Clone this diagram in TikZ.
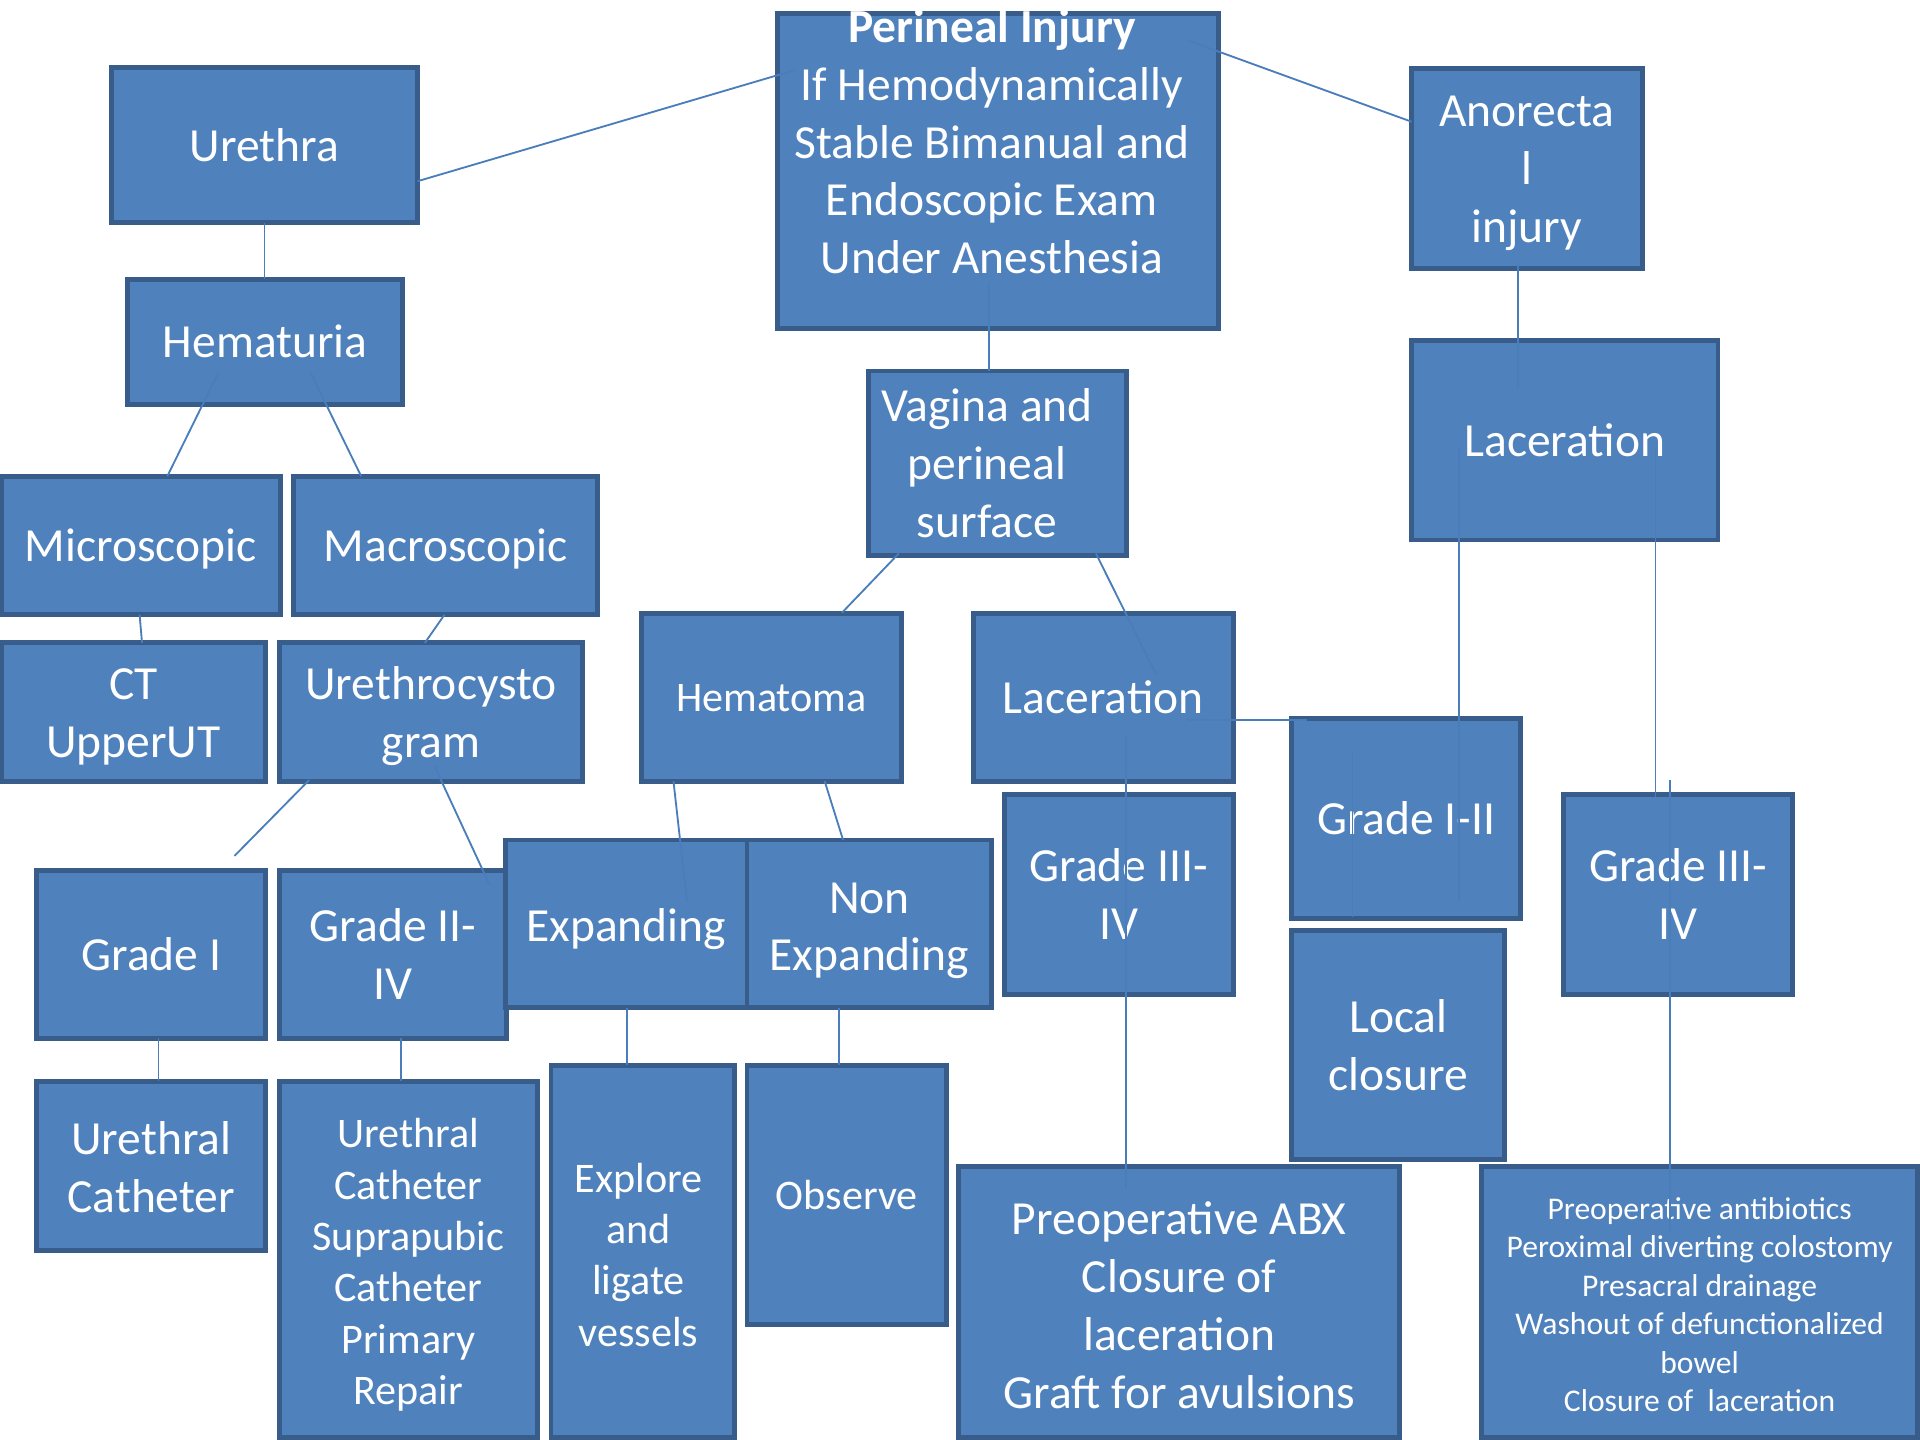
\documentclass[tikz,border=0pt]{standalone}
\usepackage{fontspec}
\setmainfont{Carlito}
\definecolor{boxfill}{HTML}{4F81BD}
\definecolor{boxline}{HTML}{385D8A}
\definecolor{linkc}{HTML}{4A7EBB}
\newcommand\bigf{\fontsize{19.4}{23.6}\selectfont}
\newcommand\midf{\fontsize{17.2}{21}\selectfont}
\newcommand\smallf{\fontsize{12.9}{15.7}\selectfont}
% line strut like a PowerPoint line box
\newcommand\ls{\rule[-0.26em]{0pt}{1.2em}}
\tikzset{
  box/.style={draw=boxline, fill=boxfill, line width=2pt, inner sep=0pt, outer sep=0pt},
  txt/.style={text=white, align=center, inner sep=0pt, font=\bigf},
  link/.style={draw=linkc, line width=0.75pt},
}
% [text opts]{x1}{y1}{x2}{y2}{name}{text}  (coordinates in reference pixels)
\newcommand\mkbox[7][]{%
  \node[box,minimum width={(#4-#2)*0.5pt},minimum height={(#5-#3)*0.5pt}] (#6) at ({(#2+#4)/2},{(#3+#5)/2}) {};
  \node[txt,#1] (#6t) at (#6.center) {\ls#7\ls};}
\begin{document}
\begin{tikzpicture}[x=0.5pt,y=-0.5pt]
\fill[white] (0,0) rectangle (1568,1176);
\useasboundingbox (0,0) rectangle (1568,1176);

% boxes
\node[box,minimum width=180pt,minimum height=128.5pt] (per) at (815,139.5) {};
\node[txt] (pertxt) at (810,116) {\ls\textbf{Perineal Injury}\\If Hemodynamically\\Stable Bimanual and\\Endoscopic Exam\\Under Anesthesia\ls};
\mkbox{91}{55}{341}{182}{ure}{Urethra}
\mkbox{104}{228}{329}{330}{hem}{Hematuria}
\mkbox{1153}{56}{1341}{219}{anr}{Anorecta\\l\\injury}
\mkbox{1153}{278}{1403}{441}{lacA}{Laceration}
\mkbox[xshift=-4.2pt]{709}{303}{920}{454}{vag}{Vagina and\\perineal\\surface}
\mkbox{1}{389}{229}{502}{mic}{Microscopic}
\mkbox{240}{389}{488}{502}{mac}{Macroscopic}
\mkbox{1}{525}{217}{638}{ct}{CT\\UpperUT}
\mkbox{228}{525}{476}{638}{uc}{Urethrocysto\\gram}
\mkbox[font=\midf]{524}{501}{736}{638}{hma}{Hematoma}
\mkbox{795}{501}{1007}{638}{lacV}{Laceration}
\mkbox{30}{711}{217}{848}{gone}{Grade I}
\mkbox{228}{711}{414}{848}{gtwofour}{Grade II-\\IV}
\mkbox[yshift=-0.8pt]{413}{686}{610}{823}{expd}{Expanding}
\mkbox[yshift=-0.8pt]{610}{686}{810}{823}{nexp}{Non\\Expanding}
\mkbox{820}{649}{1007}{812}{gthreeL}{Grade III-\\IV}
\mkbox{1055}{587}{1242}{750}{gonetwo}{Grade I-II}
\mkbox{1277}{649}{1464}{812}{gthreeR}{Grade III-\\IV}
\mkbox{1055}{760}{1229}{947}{lclos}{Local\\closure}
\mkbox[yshift=-0.6pt]{30}{883}{217}{1021}{ucath}{Urethral\\Catheter}
\mkbox[font=\midf,yshift=-1pt]{228}{883}{439}{1174}{ucs}{Urethral\\Catheter\\Suprapubic\\Catheter\\Primary\\Repair}
\mkbox[font=\midf,xshift=-1.8pt,yshift=-1.4pt]{450}{870}{600}{1174}{explr}{Explore\\and\\ligate\\vessels}
\mkbox[font=\midf]{610}{870}{773}{1082}{obs}{Observe}
\mkbox[yshift=-1.2pt]{783}{953}{1143}{1174}{pabx}{Preoperative ABX\\Closure of\\laceration\\Graft for avulsions}
\mkbox[font=\smallf,yshift=-1pt]{1210}{953}{1566}{1174}{pant}{Preoperative antibiotics\\Peroximal diverting colostomy\\Presacral drainage\\Washout of defunctionalized\\bowel\\Closure of\ \ laceration}

\coordinate (ugfree) at (191.5,699);

% connectors
\draw[link] ([shift={(-165,-82.5)}]per.center) -- ([shift={(125,29.5)}]ure.center);
\draw[link] ([shift={(155,-106.5)}]per.center) -- ([shift={(-94,-38)}]anr.center);
\draw[link] (ure.south) -- (ure.south |- hem.north);
\draw[link] ([shift={(-38,25)}]hem.center) -- ([shift={(21.6,-56.5)}]mic.center);
\draw[link] ([shift={(37,25)}]hem.center) -- ([shift={(-69,-56.5)}]mac.center);
\draw[link] ([shift={(-1,56.5)}]mic.center) -- ([shift={(7,-56.5)}]ct.center);
\draw[link] ([shift={(-1,56.5)}]mac.center) -- ([shift={(-5,-56.5)}]uc.center);
\draw[link] ([shift={(-99.5,55.5)}]uc.center) -- (ugfree);
\draw[link] ([shift={(3,44.5)}]uc.center) -- ([shift={(79,-56.5)}]gtwofour.center);
\draw[link] ([shift={(6,68.5)}]gone.center) -- ([shift={(6,-69)}]ucath.center);
\draw[link] ([shift={(6.5,68.5)}]gtwofour.center) -- ([shift={(-6,-145.5)}]ucs.center);
\draw[link] ([shift={(-7,90.5)}]per.center) -- ([shift={(-6.5,-75.5)}]vag.center);
\draw[link] ([shift={(-80.5,73.5)}]vag.center) -- ([shift={(57.5,-69)}]hma.center);
\draw[link] ([shift={(80.5,73.5)}]vag.center) -- ([shift={(43,-19)}]lacV.center);
\draw[link] ([shift={(-80,68.5)}]hma.center) -- ([shift={(49.5,-18.5)}]expd.center);
\draw[link] ([shift={(43.5,68.5)}]hma.center) -- ([shift={(-21.5,-68.5)}]nexp.center);
\draw[link] ([shift={(0.5,68.5)}]expd.center) -- ([shift={(-13,-152)}]explr.center);
\draw[link] ([shift={(-25,68.5)}]nexp.center) -- ([shift={(-6.5,-106)}]obs.center);
\draw[link] ([shift={(68,18.5)}]lacV.center) -- ([shift={(-81.5,-80.5)}]gonetwo.center);
\draw[link] ([shift={(18.5,30.5)}]lacV.center) -- ([shift={(-43.5,-93.5)}]pabx.center);
\draw[link] ([shift={(-7,77.5)}]anr.center) -- ([shift={(-38,-43.5)}]lacA.center);
\draw[link] ([shift={(-86.5,6.5)}]lacA.center) -- ([shift={(43,67.5)}]gonetwo.center);
\draw[link] ([shift={(74,6.5)}]lacA.center) -- ([shift={(-18.5,-79.5)}]gthreeR.center);
\draw[link] ([shift={(-6.5,-93.5)}]gthreeR.center) -- ([shift={(-24,-56.5)}]pant.center);
\draw[link] ([shift={(-44,-55.5)}]gonetwo.center) -- ([shift={(-37.5,-104.5)}]lclos.center);
\end{tikzpicture}
\end{document}
